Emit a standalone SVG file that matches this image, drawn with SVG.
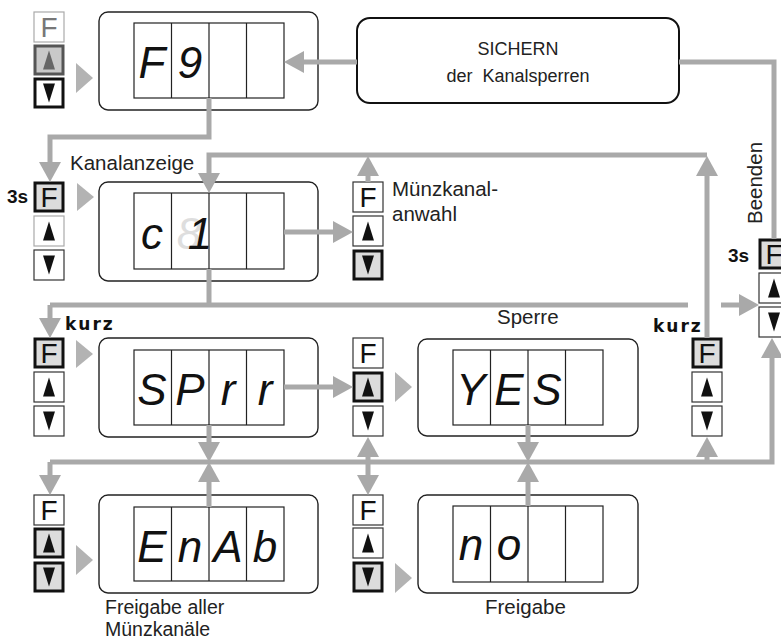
<svg xmlns="http://www.w3.org/2000/svg" width="781" height="641" viewBox="0 0 781 641">
<style>
.ln{fill:none;stroke:#a9a9a9;stroke-width:5}
.box{fill:#fff;stroke:#222;stroke-width:1.4}
.lcd{fill:none;stroke:#222;stroke-width:1.2}
.seg{font-family:"Liberation Sans",Arial,sans-serif;font-style:italic;font-size:44px;fill:#111;text-anchor:middle}
.dim{fill:#dedede}
.key{fill:#fff;stroke:#333;stroke-width:1.2}
.keyA{fill:#dcdcdc;stroke:#111;stroke-width:3}
.keyG{fill:#fff;stroke:#aaa;stroke-width:1.2}
.keyB{fill:#fff;stroke:#111;stroke-width:3}
.keyC{fill:#c9c9c9;stroke:#555;stroke-width:3}
.kf{font-family:"Liberation Sans",Arial,sans-serif;font-size:28px;fill:#111;text-anchor:middle}
.kfg{fill:#777}
.tri{fill:#111}
.trig{fill:#666}
.play{fill:#b3b3b3}
.lbl{font-family:"Liberation Sans",Arial,sans-serif;font-size:20.5px;fill:#222}
.lb2{font-size:19.5px}
.sm{font-family:"Liberation Sans",Arial,sans-serif;font-size:18px;fill:#222;text-anchor:middle}
.bd{font-family:"Liberation Sans",Arial,sans-serif;font-weight:bold;font-size:19px;fill:#111}
.kz{font-family:"DejaVu Sans",Verdana,sans-serif;font-weight:bold;font-size:17px;letter-spacing:2px;fill:#111}
</style>
<defs>
<marker id="ah" markerUnits="userSpaceOnUse" markerWidth="20" markerHeight="22" viewBox="0 0 20 22" refX="2" refY="11" orient="auto"><path d="M0,0 L20,11 L0,22 z" fill="#a9a9a9"/></marker>
<polygon id="up" points="-6,9.5 0,-9.5 6,9.5"/>
<polygon id="dn" points="-6,-9.5 0,9.5 6,-9.5"/>
</defs>

<!-- row 1 -->
<g id="keys1">
<rect class="keyG" x="34" y="12" width="30" height="30"/><text class="kf kfg" x="49" y="37">F</text>
<rect class="keyC" x="35" y="46" width="28" height="28"/><use href="#up" x="49" y="60" class="trig"/>
<rect class="keyB" x="35" y="79" width="28" height="28"/><use href="#dn" x="49" y="93" class="tri"/>
<polygon class="play" points="76,63 93,78 76,93"/>
</g>
<g id="disp1">
<rect class="box" x="99" y="12" width="219" height="98" rx="9"/>
<rect class="lcd" x="134" y="23" width="150" height="75"/>
<path class="lcd" d="M171.5,23V98M209,23V98M246.5,23V98"/>
<text class="seg" x="152 190" y="78">F9</text>
</g>
<g id="sichern">
<rect x="357" y="18" width="322" height="85" rx="13" fill="#fff" stroke="#111" stroke-width="2"/>
<text class="sm" x="518" y="55">SICHERN</text>
<text class="sm" x="518" y="82" xml:space="preserve">der  Kanalsperren</text>
</g>

<!-- row 2 -->
<g id="keys2">
<text class="bd" x="7" y="203">3s</text>
<rect class="keyA" x="35" y="183" width="28" height="28"/><text class="kf" x="49" y="207">F</text>
<rect class="keyG" x="34" y="216" width="30" height="30"/><use href="#up" x="49" y="231" class="tri"/>
<rect class="key" x="34" y="250" width="30" height="30"/><use href="#dn" x="49" y="265" class="tri"/>
<polygon class="play" points="77,183 94,197 77,211"/>
</g>
<text class="lbl" x="70" y="170">Kanalanzeige</text>
<g id="disp2">
<rect class="box" x="99" y="182" width="219" height="99" rx="9"/>
<rect class="lcd" x="134" y="193" width="150" height="76"/>
<path class="lcd" d="M171.5,193V269M209,193V269M246.5,193V269"/>
<text class="seg" x="152" y="249">c</text>
<text class="seg dim" x="189" y="249">8</text>
<text class="seg" x="200" y="249">1</text>
</g>
<g id="keysM">
<rect class="key" x="353" y="182" width="30" height="30"/><text class="kf" x="368" y="207">F</text>
<rect class="key" x="353" y="216" width="30" height="30"/><use href="#up" x="368" y="231" class="tri"/>
<rect class="keyA" x="354" y="251" width="28" height="28"/><use href="#dn" x="368" y="265" class="tri"/>
<text class="lbl" x="392" y="196">Münzkanal-</text>
<text class="lbl" x="392" y="221">anwahl</text>
</g>
<g id="keysR">
<text class="lbl" transform="translate(762,183) rotate(-90)" text-anchor="middle">Beenden</text>
<text class="bd" x="728" y="262">3s</text>
<rect class="keyA" x="760" y="240" width="28" height="28"/><text class="kf" x="774" y="264">F</text>
<rect class="key" x="759" y="273" width="30" height="30"/><use href="#up" x="774" y="288" class="tri"/>
<rect class="key" x="759" y="307" width="30" height="30"/><use href="#dn" x="774" y="322" class="tri"/>
</g>

<!-- row 3 -->
<g id="keys3">
<text class="kz" x="65" y="330">kurz</text>
<rect class="keyA" x="35" y="339" width="28" height="28"/><text class="kf" x="49" y="363">F</text>
<rect class="key" x="34" y="372" width="30" height="30"/><use href="#up" x="49" y="387" class="tri"/>
<rect class="key" x="34" y="406" width="30" height="30"/><use href="#dn" x="49" y="421" class="tri"/>
<polygon class="play" points="76,340 93,354 76,368"/>
</g>
<g id="disp3">
<rect class="box" x="99" y="338" width="219" height="99" rx="9"/>
<rect class="lcd" x="134" y="350" width="150" height="75"/>
<path class="lcd" d="M171.5,350V425M209,350V425M246.5,350V425"/>
<text class="seg" x="152 190 228 265" y="405">SPrr</text>
</g>
<g id="keys3b">
<rect class="key" x="353" y="338" width="30" height="30"/><text class="kf" x="368" y="363">F</text>
<rect class="keyA" x="354" y="373" width="28" height="28"/><use href="#up" x="368" y="387" class="tri"/>
<rect class="key" x="353" y="406" width="30" height="30"/><use href="#dn" x="368" y="421" class="tri"/>
<polygon class="play" points="395,372 412,387 395,402"/>
</g>
<text class="lbl" x="497" y="324">Sperre</text>
<g id="disp5">
<rect class="box" x="418" y="339" width="220" height="97" rx="9"/>
<rect class="lcd" x="453" y="350" width="150" height="75"/>
<path class="lcd" d="M490.5,350V425M528,350V425M565.5,350V425"/>
<text class="seg" x="471 509 547" y="405">YES</text>
</g>
<g id="keysK">
<text class="kz" x="653" y="332">kurz</text>
<rect class="keyA" x="693" y="339" width="28" height="28"/><text class="kf" x="707" y="363">F</text>
<rect class="key" x="692" y="372" width="30" height="30"/><use href="#up" x="707" y="387" class="tri"/>
<rect class="key" x="692" y="406" width="30" height="30"/><use href="#dn" x="707" y="421" class="tri"/>
</g>

<!-- row 4 -->
<g id="keys4">
<rect class="key" x="34" y="495" width="30" height="30"/><text class="kf" x="49" y="520">F</text>
<rect class="keyA" x="35" y="529" width="28" height="28"/><use href="#up" x="49" y="543" class="tri"/>
<rect class="keyA" x="35" y="563" width="28" height="28"/><use href="#dn" x="49" y="577" class="tri"/>
<polygon class="play" points="76,545 93,560 76,575"/>
</g>
<g id="disp4">
<rect class="box" x="99" y="495" width="219" height="98" rx="9"/>
<rect class="lcd" x="134" y="507" width="150" height="74"/>
<path class="lcd" d="M171.5,507V581M209,507V581M246.5,507V581"/>
<text class="seg" x="152 190 228 265" y="562">EnAb</text>
</g>
<text class="lbl lb2" x="105" y="614">Freigabe aller</text>
<text class="lbl lb2" x="105" y="636">Münzkanäle</text>
<g id="keys4b">
<rect class="key" x="353" y="495" width="30" height="30"/><text class="kf" x="368" y="520">F</text>
<rect class="key" x="353" y="528" width="30" height="30"/><use href="#up" x="368" y="543" class="tri"/>
<rect class="keyA" x="354" y="563" width="28" height="28"/><use href="#dn" x="368" y="577" class="tri"/>
<polygon class="play" points="395,563 412,578 395,593"/>
</g>
<g id="disp6">
<rect class="box" x="418" y="495" width="220" height="98" rx="9"/>
<rect class="lcd" x="453" y="506" width="150" height="76"/>
<path class="lcd" d="M490.5,506V582M528,506V582M565.5,506V582"/>
<text class="seg" x="471 509" y="560">no</text>
</g>
<text class="lbl" x="485" y="614">Freigabe</text>

<g id="connectors">
<path class="ln" d="M357,62H302" marker-end="url(#ah)"/>
<path class="ln" d="M679,62H774V239"/>
<path class="ln" d="M209,98V137H50V164" marker-end="url(#ah)"/>
<path class="ln" d="M707,155H209V175" marker-end="url(#ah)"/>
<path class="ln" d="M707,338V174" marker-end="url(#ah)"/>
<path class="ln" d="M368,182V174" marker-end="url(#ah)"/>
<path class="ln" d="M284,232H335" marker-end="url(#ah)"/>
<path class="ln" d="M209,269V305"/>
<path class="ln" d="M50,305H688"/>
<path class="ln" d="M721,305H741" marker-end="url(#ah)"/>
<path class="ln" d="M50,305V320" marker-end="url(#ah)"/>
<path class="ln" d="M284,387H335" marker-end="url(#ah)"/>
<path class="ln" d="M209,425V444" marker-end="url(#ah)"/>
<path class="ln" d="M50,462H772V356" marker-end="url(#ah)"/>
<path class="ln" d="M50,462V477" marker-end="url(#ah)"/>
<path class="ln" d="M209,507V480" marker-end="url(#ah)"/>
<path class="ln" d="M368,462V477" marker-end="url(#ah)"/>
<path class="ln" d="M368,462V455" marker-end="url(#ah)"/>
<path class="ln" d="M528,425V444" marker-end="url(#ah)"/>
<path class="ln" d="M528,506V480" marker-end="url(#ah)"/>
<path class="ln" d="M707,462V455" marker-end="url(#ah)"/>
</g>
</svg>
